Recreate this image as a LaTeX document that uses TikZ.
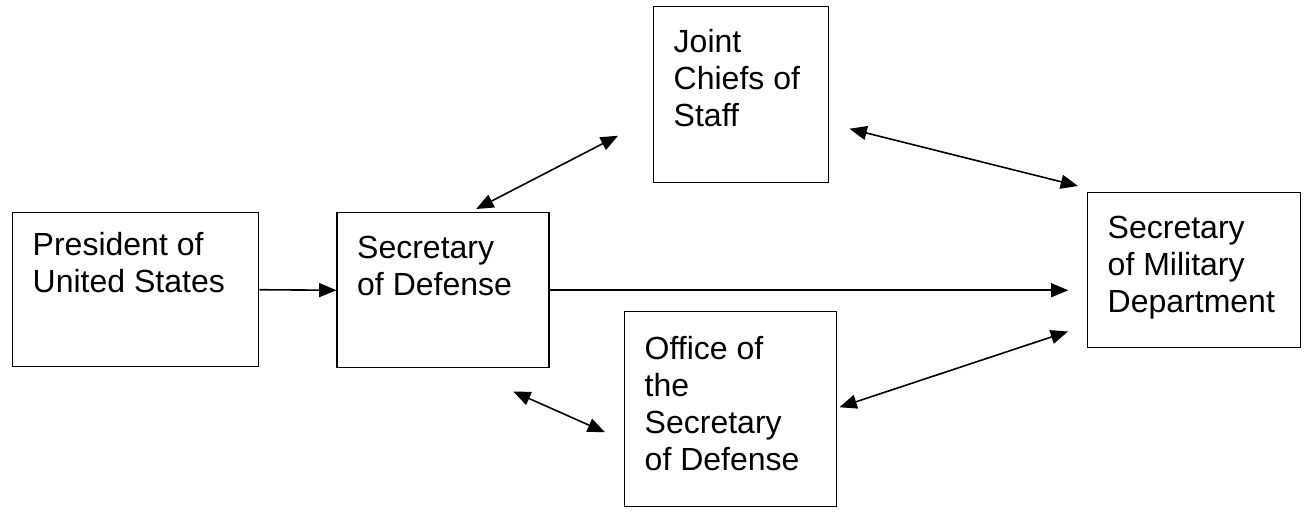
\documentclass[tikz,border=0pt]{standalone}
\usepackage{fontspec}
\setmainfont{Liberation Sans}
\usetikzlibrary{positioning}
\usetikzlibrary{calc, arrows.meta}
\newcommand{\orgfont}{\fontsize{24}{27.75}\selectfont}

\begin{document}
\begin{tikzpicture}[x=0.75pt, y=-0.75pt]
       \orgfont
       \tikzstyle{box} = [
            rectangle,
            draw=black,
            line width=1.1pt,
            anchor=north west,
            align=flush left,
            inner xsep=15pt,
            inner ysep=0pt,
            text height=34pt
       ]
       \tikzstyle{arrow} = [line width=1.2pt, -{Triangle[length=13pt, width=10.5pt]}]
       \tikzstyle{twoway} = [line width=1.2pt, {Triangle[length=13pt, width=10.5pt]}-{Triangle[length=13pt, width=10.5pt]}]
       \useasboundingbox (0,0) rectangle (1306,512);

       \node (president) at (12,212) [box, text width=154.5pt, text height=32pt, text depth=83.5pt] {President of\\United States};
       \node (secdef) [box, right=57.75pt of president.north east, anchor=north west, text width=129pt, text depth=82.25pt] {Secretary\\of Defense};
       \node (jcs) at (653,6) [box, text width=101.25pt, text depth=98pt] {Joint\\Chiefs of\\Staff};
       \node (osd) at (624,311) [box, text width=129pt, text height=36pt, text depth=110.25pt] {Office of\\the\\Secretary\\of Defense};
       \node (milsec) at (1087,192) [box, text width=129.75pt, text depth=82.25pt] {Secretary\\of Military\\Department};

       \draw[arrow] (president.east) -- (secdef.west);
       \draw[arrow, shorten >=14pt] (secdef.east) -- (secdef.east -| milsec.west);
       \draw[twoway] ($(secdef.north)+(33,-3)$) -- ($(jcs.west)+(-35,41)$);
       \draw[twoway] ($(jcs.east)+(20,34)$) -- ($(milsec.north west)+(-9,-6)$);
       \draw[twoway] ($(osd.east)+(2,-2)$) -- ($(milsec.south west)+(-19,-17)$);
       \draw[twoway] ($(secdef.south)+(70,23)$) -- ($(osd.west)+(-19,23)$);
\end{tikzpicture}
\end{document}
